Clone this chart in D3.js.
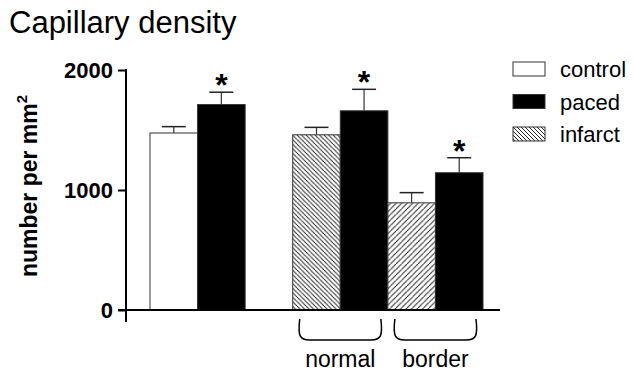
<!DOCTYPE html>
<html>
<head>
<meta charset="utf-8">
<script src="https://cdn.jsdelivr.net/npm/d3@7"></script>
<style>
  body { margin: 0; background: #fff; }
  svg { display: block; font-family: 'Liberation Sans', Arial, sans-serif; }
</style>
</head>
<body>
<svg id="chart" width="634" height="374"></svg>
<script>
// slots along the x axis, 'gap' is an empty slot
const slots = ['control', 'paced', 'gap', 'normal-infarct', 'normal-paced', 'border-infarct', 'border-paced']
const bars = ['control', 'paced', 'normal-infarct', 'normal-paced', 'border-infarct', 'border-paced']
const means = [1475, 1712, 1460, 1660, 893, 1144]
const sems = [53, 103, 62, 179, 85, 125]
const starred = [false, true, false, true, false, true]
const groups = ['normal', 'border']
const groupBars = [['normal-infarct', 'normal-paced'], ['border-infarct', 'border-paced']]
const legendLabels = ['control', 'paced', 'infarct']
const yTicks = [0, 1000, 2000]

const fillOf = {
  'control': '#fff',
  'paced': '#000',
  'normal-infarct': 'url(#hatchBack)',
  'normal-paced': '#000',
  'border-infarct': 'url(#hatchFwd)',
  'border-paced': '#000'
}
const legendFill = ['#fff', '#000', 'url(#hatchLegend)']

const svg = d3.select('#chart')

// hatch patterns
const defs = svg.append('defs')
function hatch (id, size, dir) {
  const p = defs.append('pattern')
    .attr('id', id)
    .attr('patternUnits', 'userSpaceOnUse')
    .attr('width', size)
    .attr('height', size)
  p.append('rect').attr('width', size).attr('height', size).attr('fill', '#fff')
  const d = dir > 0
    ? `M0,${size} L${size},0 M${-size},${size} L0,0 M${size},${2 * size} L${2 * size},${size}`
    : `M0,0 L${size},${size} M${-size},0 L0,${size} M${size},0 L${2 * size},${size}`
  p.append('path').attr('d', d).attr('stroke', '#222').attr('stroke-width', 1)
}
hatch('hatchBack', 4.5, -1)
hatch('hatchFwd', 5.5, 1)
hatch('hatchLegend', 4, -1)

const x = d3.scaleBand().domain(slots).range([150, 483]).padding(0)
const y = d3.scaleLinear().domain([0, 2000]).range([310, 70])
const bw = x.bandwidth()

// title
svg.append('text')
  .attr('x', 9)
  .attr('y', 33)
  .attr('font-size', 31)
  .text('Capillary density')

// y label
const yl = svg.append('text')
  .attr('transform', 'translate(37,186) rotate(-90)')
  .attr('text-anchor', 'middle')
  .attr('font-size', 23)
  .attr('font-weight', 'bold')
yl.append('tspan').text('number per mm')
yl.append('tspan').attr('font-size', 15).attr('dy', -10).text('2')

// bars
const bar = svg.append('g').selectAll('g')
  .data(bars.map((b, i) => ({ key: b, mean: means[i], sem: sems[i], star: starred[i] })))
  .join('g')

bar.append('line')
  .attr('x1', d => x(d.key) + bw / 2)
  .attr('x2', d => x(d.key) + bw / 2)
  .attr('y1', d => y(d.mean))
  .attr('y2', d => y(d.mean + d.sem))
  .attr('stroke', '#333')
  .attr('stroke-width', 1.2)
bar.append('line')
  .attr('x1', d => x(d.key) + bw / 2 - 12)
  .attr('x2', d => x(d.key) + bw / 2 + 12)
  .attr('y1', d => y(d.mean + d.sem))
  .attr('y2', d => y(d.mean + d.sem))
  .attr('stroke', '#222')
  .attr('stroke-width', 1.5)

bar.append('rect')
  .attr('x', d => x(d.key))
  .attr('y', d => y(d.mean))
  .attr('width', bw)
  .attr('height', d => y(0) - y(d.mean))
  .attr('fill', d => fillOf[d.key])
  .attr('stroke', '#333')
  .attr('stroke-width', 1)

bar.filter(d => d.star).append('text')
  .attr('x', d => x(d.key) + bw / 2)
  .attr('y', d => y(d.mean + d.sem) + 4)
  .attr('text-anchor', 'middle')
  .attr('font-size', 32)
  .attr('font-weight', 'bold')
  .text('*')

// axes
const yAxis = d3.axisLeft(y).tickValues(yTicks).tickFormat(d3.format('d'))
  .tickSize(8).tickSizeOuter(0).tickPadding(5)
const gy = svg.append('g')
  .attr('transform', 'translate(126,0)')
  .call(yAxis)
gy.select('.domain').remove()
gy.selectAll('.tick line').attr('stroke', '#000').attr('stroke-width', 2)
gy.selectAll('.tick text')
  .attr('font-size', 22)
  .attr('font-weight', 'bold')
  .attr('font-family', "'Liberation Sans', Arial, sans-serif")
  .attr('fill', '#000')
gy.append('line')
  .attr('x1', 0).attr('x2', 0)
  .attr('y1', y(2000) - 1).attr('y2', y(0) + 12)
  .attr('stroke', '#000').attr('stroke-width', 2)

svg.append('line')
  .attr('x1', 118).attr('x2', 500)
  .attr('y1', y(0)).attr('y2', y(0))
  .attr('stroke', '#000').attr('stroke-width', 2)

// group braces
groups.forEach((g, i) => {
  const x0 = x(groupBars[i][0]) + 7
  const x1 = x(groupBars[i][1]) + bw - 7
  const top = 319
  const bot = 340
  svg.append('path')
    .attr('d', `M${x0},${top} C${x0 - 2},${bot - 4} ${x0},${bot} ${x0 + 10},${bot} L${x1 - 10},${bot} C${x1},${bot} ${x1 + 2},${bot - 4} ${x1},${top}`)
    .attr('fill', 'none')
    .attr('stroke', '#000')
    .attr('stroke-width', 1.5)
  svg.append('text')
    .attr('x', (x0 + x1) / 2)
    .attr('y', 367)
    .attr('text-anchor', 'middle')
    .attr('font-size', 23)
    .text(g)
})

// legend
const lg = svg.append('g').attr('transform', 'translate(513,62)')
const row = lg.selectAll('g')
  .data(legendLabels)
  .join('g')
  .attr('transform', (d, i) => `translate(0,${i * 32.5})`)
row.append('rect')
  .attr('width', 32)
  .attr('height', 14)
  .attr('fill', (d, i) => legendFill[i])
  .attr('stroke', '#333')
  .attr('stroke-width', 1)
row.append('text')
  .attr('x', 47)
  .attr('y', 15)
  .attr('font-size', 22)
  .text(d => d)
</script>
</body>
</html>
